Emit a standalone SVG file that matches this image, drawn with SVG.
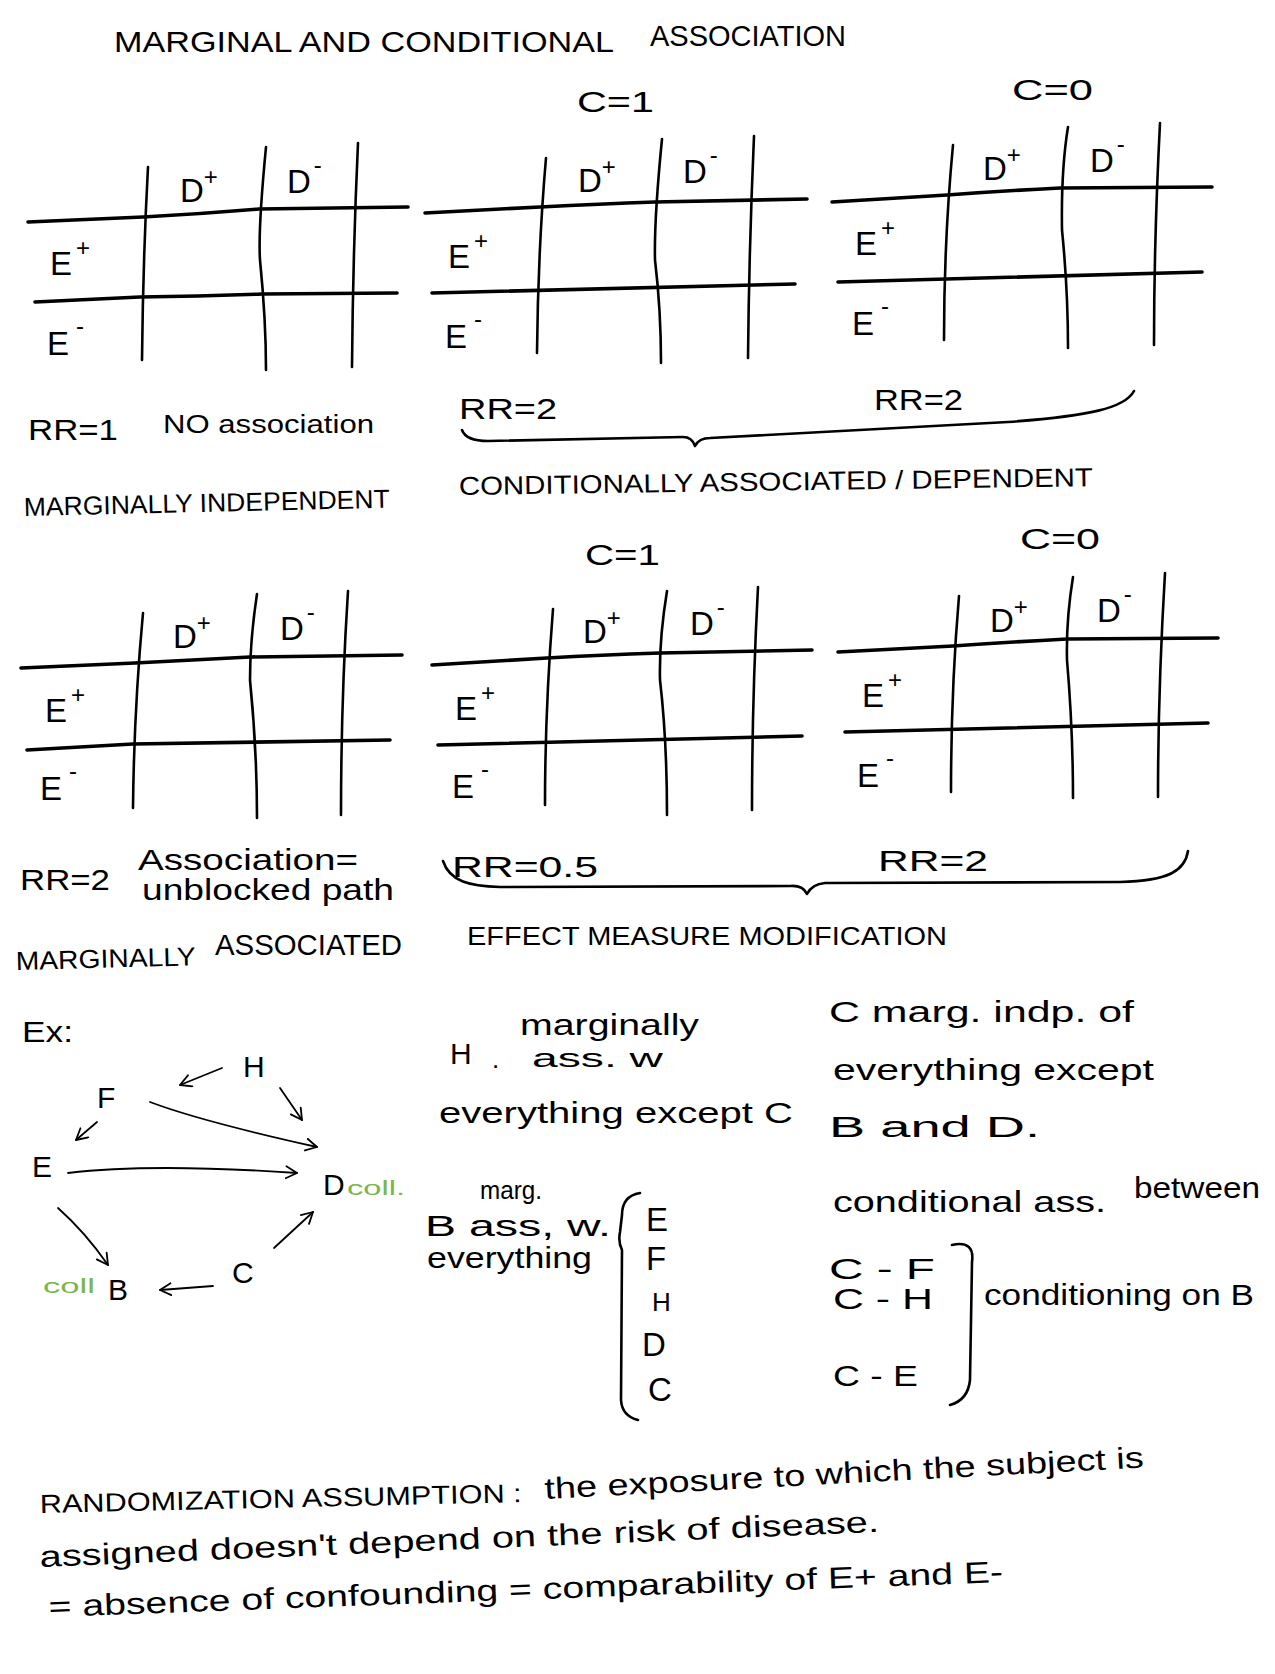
<svg xmlns="http://www.w3.org/2000/svg" width="1275" height="1674" viewBox="0 0 1275 1674">
<defs>
<style>
text{font-family:"Liberation Sans","DejaVu Sans",Arial,sans-serif;fill:#000;}
.t{font-size:30px;}
.s{font-size:26px;}
.lb{font-size:33px;}
.sup{font-size:24px;}
.g{fill:#7cb548;font-size:20px;}
.h{fill:none;stroke:#000;stroke-width:3.6;stroke-linecap:round;stroke-linejoin:round;}
.v{fill:none;stroke:#000;stroke-width:2.6;stroke-linecap:round;}
.br{fill:none;stroke:#000;stroke-width:2.6;stroke-linecap:round;stroke-linejoin:round;}
.ar{fill:none;stroke:#000;stroke-width:1.8;stroke-linecap:round;marker-end:url(#arr);}
</style>
<marker id="arr" markerUnits="userSpaceOnUse" markerWidth="16" markerHeight="16" refX="12" refY="7" orient="auto">
<path d="M1,1 L12,7 L1,13" fill="none" stroke="#000" stroke-width="1.8" stroke-linecap="round" stroke-linejoin="round"/>
</marker>
</defs>
<rect width="1275" height="1674" fill="#fff"/>

<!-- Title and headers -->
<g id="title">
<text class="t" x="114" y="52" textLength="500" lengthAdjust="spacingAndGlyphs">MARGINAL AND CONDITIONAL</text>
<text class="t" x="650" y="46" textLength="196" lengthAdjust="spacingAndGlyphs">ASSOCIATION</text>
<text class="t" x="577" y="112" textLength="77" lengthAdjust="spacingAndGlyphs">C=1</text>
<text class="t" x="1012" y="100" textLength="81" lengthAdjust="spacingAndGlyphs">C=0</text>
</g>

<!-- Table 1 -->
<g id="table1">
<path class="h" d="M28,222 L143,217 Q200,214 259,209 L408,207"/>
<path class="h" d="M35,302 L140,297 Q200,296 262,294 L397,293"/>
<path class="v" d="M148,167 Q143,260 142,360"/>
<path class="v" d="M266,147 Q258,230 260,260 Q266,320 266,370"/>
<path class="v" d="M358,143 Q353,250 352,367"/>
<text class="lb" x="180" y="202">D<tspan class="sup" dy="-17">+</tspan></text>
<text class="lb" x="287" y="193">D<tspan class="sup" dy="-20" dx="3">-</tspan></text>
<text class="lb" x="50" y="275">E<tspan class="sup" dy="-19" dx="4">+</tspan></text>
<text class="lb" x="47" y="355">E<tspan class="sup" dy="-21" dx="7">-</tspan></text>
</g>

<!-- Table 2 -->
<g id="table2">
<path class="h" d="M425,213 L540,207 Q600,204 655,202 L807,199"/>
<path class="h" d="M432,293 Q600,289 795,284"/>
<path class="v" d="M546,158 Q538,250 537,353"/>
<path class="v" d="M662,139 Q654,220 655,260 Q661,310 661,363"/>
<path class="v" d="M754,136 Q749,250 748,358"/>
<text class="lb" x="578" y="192">D<tspan class="sup" dy="-17">+</tspan></text>
<text class="lb" x="683" y="183">D<tspan class="sup" dy="-20" dx="3">-</tspan></text>
<text class="lb" x="448" y="268">E<tspan class="sup" dy="-19" dx="4">+</tspan></text>
<text class="lb" x="445" y="348">E<tspan class="sup" dy="-21" dx="7">-</tspan></text>
</g>

<!-- Table 3 -->
<g id="table3">
<path class="h" d="M832,202 L947,195 Q1000,191 1060,188 L1212,187"/>
<path class="h" d="M838,282 Q1000,277 1202,272"/>
<path class="v" d="M953,145 Q944,240 944,340"/>
<path class="v" d="M1068,127 Q1061,170 1062,230 Q1068,290 1068,348"/>
<path class="v" d="M1160,123 Q1154,240 1154,345"/>
<text class="lb" x="983" y="180">D<tspan class="sup" dy="-17">+</tspan></text>
<text class="lb" x="1090" y="172">D<tspan class="sup" dy="-20" dx="3">-</tspan></text>
<text class="lb" x="855" y="255">E<tspan class="sup" dy="-19" dx="4">+</tspan></text>
<text class="lb" x="852" y="335">E<tspan class="sup" dy="-21" dx="7">-</tspan></text>
</g>

<!-- First row annotations -->
<g id="row1-notes">
<text class="t" x="28" y="440" textLength="90" lengthAdjust="spacingAndGlyphs">RR=1</text>
<text class="s" x="163" y="433" textLength="211" lengthAdjust="spacingAndGlyphs">NO association</text>
<text class="t" x="459" y="419" textLength="98" lengthAdjust="spacingAndGlyphs">RR=2</text>
<text class="t" x="874" y="410" textLength="89" lengthAdjust="spacingAndGlyphs">RR=2</text>
<path class="br" d="M462,430 Q466,441 488,441 L683,437 Q692,437 695,446 Q699,438 710,438 L1008,422 C1090,416 1125,408 1134,391"/>
<text class="s" x="24" y="516" textLength="366" lengthAdjust="spacingAndGlyphs" transform="rotate(-1.3 24 516)">MARGINALLY INDEPENDENT</text>
<text class="s" x="459" y="495" textLength="634" lengthAdjust="spacingAndGlyphs" transform="rotate(-0.8 459 495)">CONDITIONALLY ASSOCIATED / DEPENDENT</text>
<text class="t" x="585" y="565" textLength="75" lengthAdjust="spacingAndGlyphs">C=1</text>
<text class="t" x="1020" y="549" textLength="80" lengthAdjust="spacingAndGlyphs">C=0</text>
</g>

<!-- Table 4 -->
<g id="table4">
<path class="h" d="M21,668 L135,663 Q190,660 250,657 L402,655"/>
<path class="h" d="M27,750 L133,744 L390,740"/>
<path class="v" d="M143,613 Q134,710 133,808"/>
<path class="v" d="M257,594 Q250,640 250,680 Q257,750 257,818"/>
<path class="v" d="M348,591 Q341,700 341,815"/>
<text class="lb" x="173" y="648">D<tspan class="sup" dy="-17">+</tspan></text>
<text class="lb" x="280" y="640">D<tspan class="sup" dy="-20" dx="3">-</tspan></text>
<text class="lb" x="45" y="722">E<tspan class="sup" dy="-19" dx="4">+</tspan></text>
<text class="lb" x="40" y="800">E<tspan class="sup" dy="-21" dx="7">-</tspan></text>
</g>

<!-- Table 5 -->
<g id="table5">
<path class="h" d="M432,665 L547,658 Q600,655 660,653 L812,650"/>
<path class="h" d="M438,745 Q600,741 802,736"/>
<path class="v" d="M553,609 Q545,710 545,805"/>
<path class="v" d="M667,591 Q659,640 660,680 Q667,740 667,815"/>
<path class="v" d="M758,587 Q752,700 752,810"/>
<text class="lb" x="583" y="643">D<tspan class="sup" dy="-17">+</tspan></text>
<text class="lb" x="690" y="635">D<tspan class="sup" dy="-20" dx="3">-</tspan></text>
<text class="lb" x="455" y="720">E<tspan class="sup" dy="-19" dx="4">+</tspan></text>
<text class="lb" x="452" y="798">E<tspan class="sup" dy="-21" dx="7">-</tspan></text>
</g>

<!-- Table 6 -->
<g id="table6">
<path class="h" d="M838,652 L953,646 Q1010,642 1067,639 L1218,638"/>
<path class="h" d="M845,732 Q1000,728 1208,723"/>
<path class="v" d="M959,596 Q951,690 951,792"/>
<path class="v" d="M1073,577 Q1066,620 1067,660 Q1073,730 1073,798"/>
<path class="v" d="M1165,573 Q1158,690 1158,797"/>
<text class="lb" x="990" y="632">D<tspan class="sup" dy="-17">+</tspan></text>
<text class="lb" x="1097" y="622">D<tspan class="sup" dy="-20" dx="3">-</tspan></text>
<text class="lb" x="862" y="707">E<tspan class="sup" dy="-19" dx="4">+</tspan></text>
<text class="lb" x="857" y="787">E<tspan class="sup" dy="-21" dx="7">-</tspan></text>
</g>

<!-- Second row annotations -->
<g id="row2-notes">
<text class="t" x="20" y="890" textLength="90" lengthAdjust="spacingAndGlyphs">RR=2</text>
<text class="t" x="138" y="870" textLength="220" lengthAdjust="spacingAndGlyphs">Association=</text>
<text class="t" x="142" y="900" textLength="252" lengthAdjust="spacingAndGlyphs">unblocked path</text>
<text class="t" x="452" y="877" textLength="146" lengthAdjust="spacingAndGlyphs">RR=0.5</text>
<text class="t" x="878" y="871" textLength="110" lengthAdjust="spacingAndGlyphs">RR=2</text>
<path class="br" d="M443,861 C450,882 470,886 500,887 L790,886 Q803,885 807,894 Q812,884 825,883 L1120,882 C1170,881 1185,870 1188,851"/>
<text class="s" x="16" y="970" textLength="180" lengthAdjust="spacingAndGlyphs" transform="rotate(-1.5 16 970)">MARGINALLY</text>
<text class="t" x="215" y="955" textLength="187" lengthAdjust="spacingAndGlyphs">ASSOCIATED</text>
<text class="s" x="467" y="945" textLength="480" lengthAdjust="spacingAndGlyphs">EFFECT MEASURE MODIFICATION</text>
</g>

<!-- Example graph -->
<text class="t" x="22" y="1042" textLength="51" lengthAdjust="spacingAndGlyphs">Ex:</text>
<g id="node-H"><text class="t" x="243" y="1077">H</text></g>
<g id="node-F"><text class="t" x="97" y="1108">F</text></g>
<g id="node-E"><text class="t" x="32" y="1177">E</text></g>
<g id="node-D"><text class="t" x="323" y="1195">D</text><text class="g" x="347" y="1195" textLength="58" lengthAdjust="spacingAndGlyphs">coll.</text></g>
<g id="node-C"><text class="t" x="232" y="1283">C</text></g>
<g id="node-B"><text class="g" x="43" y="1293" textLength="52" lengthAdjust="spacingAndGlyphs">coll</text><text class="t" x="108" y="1300">B</text></g>
<g id="connectors">
<path class="ar" d="M222,1068 L180,1085"/>
<path class="ar" d="M280,1088 L302,1120"/>
<path class="ar" d="M97,1122 L76,1140"/>
<path class="ar" d="M150,1102 Q200,1121 317,1147"/>
<path class="ar" d="M68,1173 Q151,1163 297,1173"/>
<path class="ar" d="M58,1208 Q85,1232 108,1265"/>
<path class="ar" d="M213,1286 L160,1290"/>
<path class="ar" d="M274,1248 L313,1212"/>
</g>

<!-- Middle notes -->
<g id="notes-H">
<text class="t" x="520" y="1035" textLength="179" lengthAdjust="spacingAndGlyphs">marginally</text>
<text class="t" x="450" y="1064">H</text>
<text class="s" x="492" y="1068">.</text>
<text class="s" x="532" y="1067" textLength="131" lengthAdjust="spacingAndGlyphs">ass. w</text>
<text class="t" x="439" y="1123" textLength="354" lengthAdjust="spacingAndGlyphs">everything except C</text>
</g>
<g id="notes-C">
<text class="t" x="829" y="1022" textLength="305" lengthAdjust="spacingAndGlyphs">C marg. indp. of</text>
<text class="t" x="833" y="1080" textLength="321" lengthAdjust="spacingAndGlyphs">everything except</text>
<text class="t" x="829" y="1137" textLength="211" lengthAdjust="spacingAndGlyphs">B and D.</text>
</g>
<g id="notes-B">
<text class="s" x="480" y="1199" textLength="62" lengthAdjust="spacingAndGlyphs">marg.</text>
<text class="t" x="425" y="1236" textLength="186" lengthAdjust="spacingAndGlyphs">B ass, w.</text>
<text class="t" x="427" y="1268" textLength="165" lengthAdjust="spacingAndGlyphs">everything</text>
<path class="br" d="M640,1193 Q622,1196 622,1215 L620,1232 Q618,1242 622,1250 L621,1400 Q622,1416 638,1420"/>
<text class="lb" x="646" y="1231">E</text>
<text class="lb" x="646" y="1270">F</text>
<text class="s" x="652" y="1311">H</text>
<text class="lb" x="642" y="1356">D</text>
<text class="lb" x="648" y="1401">C</text>
</g>
<g id="notes-cond">
<text class="t" x="833" y="1212" textLength="273" lengthAdjust="spacingAndGlyphs">conditional ass.</text>
<text class="t" x="1134" y="1198" textLength="126" lengthAdjust="spacingAndGlyphs">between</text>
<text class="t" x="829" y="1279" textLength="106" lengthAdjust="spacingAndGlyphs">C - F</text>
<text class="t" x="833" y="1309" textLength="100" lengthAdjust="spacingAndGlyphs">C - H</text>
<text class="t" x="833" y="1386" textLength="85" lengthAdjust="spacingAndGlyphs">C - E</text>
<path class="br" d="M952,1245 Q975,1240 972,1262 L970,1380 Q968,1400 950,1405"/>
<text class="t" x="984" y="1305" textLength="270" lengthAdjust="spacingAndGlyphs">conditioning on B</text>
</g>

<!-- Bottom -->
<g id="randomization">
<text class="s" x="40" y="1513" textLength="482" lengthAdjust="spacingAndGlyphs" transform="rotate(-1.3 40 1513)">RANDOMIZATION ASSUMPTION :</text>
<text class="t" x="545" y="1499" textLength="600" lengthAdjust="spacingAndGlyphs" transform="rotate(-3 545 1499)">the exposure to which the subject is</text>
<text class="t" x="40" y="1567" textLength="840" lengthAdjust="spacingAndGlyphs" transform="rotate(-2.4 40 1567)">assigned doesn't depend on the risk of disease.</text>
<text class="t" x="49" y="1617" textLength="955" lengthAdjust="spacingAndGlyphs" transform="rotate(-2.1 49 1617)">= absence of confounding = comparability of E+ and E-</text>
</g>
</svg>
